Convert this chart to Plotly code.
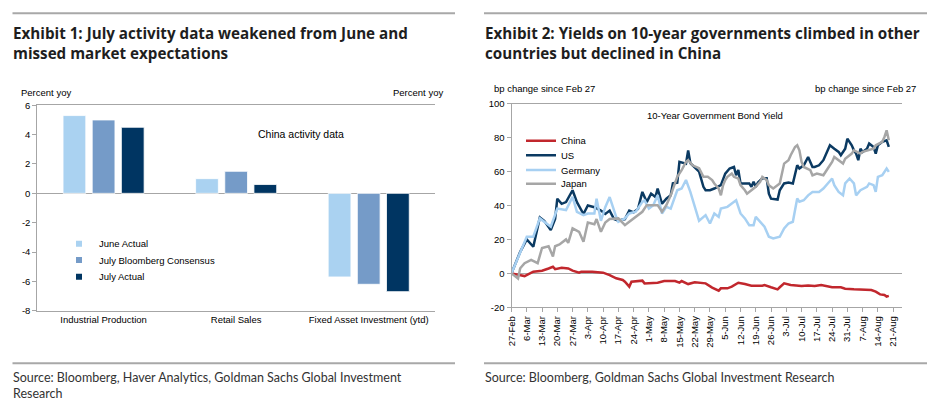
import plotly.graph_objects as go

W, H = 946, 420

# ---------------- Exhibit 1 data ----------------
CATEGORIES = ["Industrial Production", "Retail Sales", "Fixed Asset Investment (ytd)"]
JUNE_ACTUAL = [5.3, 1.0, -5.7]
JULY_CONSENSUS = [5.0, 1.5, -6.2]
JULY_ACTUAL = [4.5, 0.6, -6.7]
BAR_NAMES = ["June Actual", "July Bloomberg Consensus", "July Actual"]
BAR_COLORS = ["#AAD2F1", "#759BC8", "#003562"]
LEFT_Y_TICKS = [-8, -6, -4, -2, 0, 2, 4, 6]
LEFT_Y_TICK_LABELS = ["-8", "-6", "-4", "-2", "0", "2", "4", "6"]

# ---------------- Exhibit 2 data (bp change since Feb 27, x = days since 27-Feb) ----------------
DATE_TICK_LABELS = ["27-Feb", "6-Mar", "13-Mar", "20-Mar", "27-Mar", "3-Apr", "10-Apr", "17-Apr",
                    "24-Apr", "1-May", "8-May", "15-May", "22-May", "29-May", "5-Jun", "12-Jun",
                    "19-Jun", "26-Jun", "3-Jul", "10-Jul", "17-Jul", "24-Jul", "31-Jul", "7-Aug",
                    "14-Aug", "21-Aug"]
RIGHT_Y_TICKS = [-20, 0, 20, 40, 60, 80, 100]
RIGHT_Y_TICK_LABELS = ["-20", "0", "20", "40", "60", "80", "100"]

CHN_DAYS = [0, 3, 6, 10, 14, 17, 19, 20, 23, 26, 28, 31, 32, 37, 42, 45, 48, 51, 52, 54,
            55, 60, 61, 67, 70, 75, 77, 78, 81, 84, 89, 92, 95, 96, 99, 101, 104, 107, 110, 115,
            116, 119, 122, 123, 125, 128, 133, 136, 139, 142, 145, 147, 151, 153, 157, 161, 165,
            167, 169, 171, 172, 173]
CHN_BP = [0, -1, -1.6, 1, 1.6, 2.9, 3.9, 2.5, 3.3, 2.9, 1.6, 0.4, 1, 1, 0.4, -1, -2.9, -3.9, -4.9, -7.8,
          -4.9, -4.3, -5.9, -5.5, -4.5, -4.5, -5.5, -4.5, -6.3, -5.3, -5.9, -8.4, -10.2, -8.8, -8.8, -7.8,
          -5.5, -6.3, -7.3, -7.3, -6.9, -8.2, -9.4, -8.2, -5.9, -6.9, -7.5, -7.1, -7.5, -6.9, -7.5, -8.2,
          -8.2, -9, -9.4, -9.8, -9.8, -10.8, -12.4, -12.7, -13.7, -13.3]

US_DAYS = [0, 4, 7, 10, 13, 15, 18, 20, 21, 23, 25, 28, 30, 33, 35, 38, 41, 43, 45, 47,
           49, 52, 54, 56, 58, 60, 62, 64, 66, 67, 69, 71, 73, 74, 76, 77, 80, 81, 82, 84,
           86, 88, 89, 91, 93, 96, 98, 100, 102, 103, 104, 105, 107, 109, 110, 111, 112, 113, 115, 117,
           118, 119, 122, 123, 125, 127, 129, 131, 132, 134, 136, 138, 139, 141, 143, 146, 148, 150, 151, 153,
           154, 156, 157, 158, 159, 160, 161, 163, 164, 166, 167, 168, 170, 172, 173]
US_BP = [0, 12.7, 20, 15.7, 33, 31, 25.5, 32, 44, 41, 42, 49, 42, 35, 40, 39, 37, 35, 37, 32,
         31, 32, 37, 36, 38, 48, 42, 47, 45, 50, 41, 44, 46, 53, 53.5, 65.7, 64.7, 72.5, 65, 62.7,
         60, 51, 49, 49, 50, 52, 58.8, 61.8, 62.7, 57.8, 61, 53, 53, 53, 51, 54, 51, 53.5, 56, 56,
         47, 44, 43.5, 49, 53, 53.5, 53, 63.7, 61.8, 63.7, 68.6, 62.7, 62.7, 63.7, 66.7, 75.5, 73.5, 71.6, 69.6, 73.5,
         79.4, 75.5, 72.5, 70.6, 66.7, 73.5, 71.6, 73.5, 76.5, 74.5, 70.6, 75.5, 77.5, 78.4, 74.5]

GER_DAYS = [0, 4, 7, 10, 13, 18, 21, 25, 28, 30, 33, 35, 38, 39, 41, 43, 45, 48, 49, 52,
            54, 57, 60, 61, 63, 65, 67, 69, 71, 73, 76, 78, 80, 82, 84, 86, 89, 91, 93, 95,
            96, 99, 101, 103, 105, 107, 109, 111, 112, 114, 116, 118, 120, 123, 125, 127, 129, 131, 132, 134,
            136, 138, 141, 143, 145, 147, 148, 150, 152, 153, 155, 157, 158, 160, 163, 164, 166, 167, 168, 170,
            172, 173]
GER_BP = [0, 11.8, 21.6, 21.6, 32.4, 27.5, 38.2, 37.3, 45.1, 36.3, 34.3, 35.3, 35.3, 44, 31, 39, 45, 33.3, 30.4, 32.4,
          35.3, 36.3, 42.2, 43.1, 38.2, 40.2, 46.1, 35.3, 39.2, 38.2, 49, 50, 55, 48, 40, 31, 34.3, 29.4, 35.3, 33.3,
          38.2, 39.2, 41.2, 43.1, 35.3, 32.4, 28.4, 28.4, 33.3, 30.4, 27.5, 21.6, 20.6, 21.6, 26.5, 29.4, 30.4, 44.1, 42.2, 43.1,
          46, 48, 48, 50, 53, 55.9, 52, 48, 46, 53, 55.9, 53, 46, 49, 51, 53, 52, 48, 56.9, 57.8,
          61.8, 59.8]

JPN_DAYS = [0, 3, 4, 6, 9, 12, 14, 17, 19, 20, 22, 25, 26, 28, 31, 33, 35, 38, 39, 41,
            43, 45, 49, 52, 54, 57, 60, 62, 67, 69, 71, 73, 75, 76, 78, 80, 81, 83, 86, 88,
            90, 92, 93, 95, 96, 97, 98, 99, 101, 102, 104, 105, 107, 108, 110, 112, 114, 115, 117, 118,
            120, 121, 123, 125, 127, 128, 130, 131, 132, 133, 134, 137, 138, 140, 143, 145, 147, 148, 150, 152,
            153, 156, 157, 160, 161, 163, 166, 167, 170, 171, 172, 173]
JPN_BP = [0, -3, 3, 6, 8, 6, 15, 16, 10, 16, 17, 20, 18, 26.5, 24.5, 18.6, 30, 29, 32, 24.5,
          30, 32, 32.4, 28.4, 30.4, 33.3, 36.3, 40.2, 40.2, 36.3, 40.2, 46, 53, 56.9, 60.8, 65.7, 66.7, 63.7, 62, 56.9,
          56.9, 55, 53, 50, 46, 52, 55, 56.9, 58.8, 56.9, 55.9, 52, 49, 47, 49, 51, 53.9, 56.9, 55, 52,
          50, 51, 53, 64.7, 66.7, 69.6, 74.5, 75.5, 72.5, 65.7, 62.7, 60.8, 57.8, 58.8, 57.8, 61.8, 65.7, 68.6, 66.7, 64.7,
          67.6, 70.6, 72.5, 70.6, 71.6, 72.5, 73.5, 75.5, 77.5, 80.4, 84.3, 78.4]

LINE_SERIES = [
    ("China", CHN_DAYS, CHN_BP, "#C1272D"),
    ("US", US_DAYS, US_BP, "#0B3A62"),
    ("Germany", GER_DAYS, GER_BP, "#A7D0F2"),
    ("Japan", JPN_DAYS, JPN_BP, "#A6A6A6"),
]


def px_x(x):
    return x / W


def px_y(y):
    return 1 - y / H


CHART_FONT = "Liberation Sans, Arial, sans-serif"
TITLE_FONT = "Open Sans, sans-serif"
SOURCE_FONT = "Lato, sans-serif"
AXIS_GRAY = "#A6A6A6"
FS = 9.5

fig = go.Figure()

# ---------- Exhibit 1 bars ----------
for name, vals, col in zip(BAR_NAMES, [JUNE_ACTUAL, JULY_CONSENSUS, JULY_ACTUAL], BAR_COLORS):
    fig.add_trace(go.Bar(x=CATEGORIES, y=vals, name=name,
                         marker=dict(color=col, line=dict(color="white", width=0.8)),
                         xaxis="x", yaxis="y", showlegend=False, hoverinfo="skip"))
# legend-only entries (small square keys)
LEFT_LEG_Y = [243.7, 260.0, 276.7]
for i, (name, col) in enumerate(zip(BAR_NAMES, BAR_COLORS)):
    fig.add_trace(go.Scatter(x=[None], y=[None], mode="markers", name=name,
                             marker=dict(symbol="square", size=6, color=col),
                             xaxis="x", yaxis="y", legend=("legend" if i == 0 else f"legend{i + 1}")))

# ---------- Exhibit 2 lines ----------
for j, (name, xs, ys, col) in enumerate(LINE_SERIES):
    fig.add_trace(go.Scatter(x=xs, y=ys, mode="lines", name=name, line=dict(color=col, width=2.5),
                             xaxis="x2", yaxis="y3", legend=f"legend{4 + j}", hoverinfo="skip"))

RIGHT_LEG_Y = [140.7, 155.3, 170.0, 183.7]

# ---------- geometry ----------
L_X0, L_X1, L_Y0, L_Y1 = 37.3, 435.0, 105.3, 310.7
R_X0, R_X1, R_Y0, R_Y1 = 511.5, 901.7, 103.7, 307.3
L_DOM_X = [px_x(L_X0), px_x(L_X1)]
L_DOM_Y = [px_y(L_Y1), px_y(L_Y0)]
R_DOM_X = [px_x(R_X0), px_x(R_X1)]
R_DOM_Y = [px_y(R_Y1), px_y(R_Y0)]
zero_pos = L_DOM_Y[0] + (0 - (-8)) / 14 * (L_DOM_Y[1] - L_DOM_Y[0])

tickfont = dict(family=CHART_FONT, size=FS, color="#000000")
common = dict(automargin=False, showgrid=False, tickfont=tickfont, tickcolor=AXIS_GRAY,
              linecolor=AXIS_GRAY, linewidth=1, fixedrange=True)

layout = dict(
    width=W, height=H,
    margin=dict(l=0, r=0, t=0, b=0, pad=0),
    paper_bgcolor="white", plot_bgcolor="white",
    barmode="group", bargap=0.34, bargroupgap=0.22,
    font=dict(family=CHART_FONT, size=FS, color="#000"),
    hovermode=False,
    xaxis=dict(domain=L_DOM_X, anchor="y", type="category", categoryorder="array", categoryarray=CATEGORIES,
               range=[-0.5, 2.5], showline=True, mirror=True, ticks="", zeroline=False, **common),
    xaxis3=dict(domain=L_DOM_X, anchor="free", overlaying="x", position=zero_pos, type="linear",
                range=[-0.5, 2.5], tickvals=[0.5, 1.5], ticks="outside", ticklen=4,
                showticklabels=False, showline=False, zeroline=False, **common),
    yaxis=dict(domain=L_DOM_Y, anchor="x", range=[-8, 6], tickvals=LEFT_Y_TICKS, ticktext=LEFT_Y_TICK_LABELS,
               ticks="outside", ticklen=4, showline=True,
               zeroline=True, zerolinecolor=AXIS_GRAY, zerolinewidth=1, **common),
    yaxis2=dict(domain=L_DOM_Y, anchor="x", overlaying="y", side="right", range=[-8, 6], tickvals=LEFT_Y_TICKS,
                ticktext=LEFT_Y_TICK_LABELS, ticks="outside", ticklen=4, showline=True, zeroline=False, **common),
    xaxis2=dict(domain=R_DOM_X, anchor="y3", range=[0, (R_X1 - R_X0) / 2.181],
                tickvals=[7 * i for i in range(len(DATE_TICK_LABELS))], ticktext=DATE_TICK_LABELS,
                tickangle=-90, ticks="outside", ticklen=4, showline=True, mirror=True, zeroline=False, **common),
    yaxis3=dict(domain=R_DOM_Y, anchor="x2", range=[-20, 100], tickvals=RIGHT_Y_TICKS,
                ticktext=RIGHT_Y_TICK_LABELS, ticks="outside", ticklen=4, showline=True,
                zeroline=True, zerolinecolor=AXIS_GRAY, zerolinewidth=1, **common),
    yaxis4=dict(domain=R_DOM_Y, anchor="x2", overlaying="y3", side="right", range=[-20, 100],
                tickvals=RIGHT_Y_TICKS, ticktext=RIGHT_Y_TICK_LABELS, ticks="outside", ticklen=4, showline=True,
                zeroline=False, **common),
)

legfont = dict(family=CHART_FONT, size=FS, color="#000")
for i, yy in enumerate(LEFT_LEG_Y):
    key = "legend" if i == 0 else f"legend{i + 1}"
    layout[key] = dict(x=px_x(59), y=px_y(yy), xanchor="left", yanchor="middle", bgcolor="rgba(0,0,0,0)",
                       borderwidth=0, font=legfont, itemwidth=30)
for j, yy in enumerate(RIGHT_LEG_Y):
    layout[f"legend{4 + j}"] = dict(x=px_x(521), y=px_y(yy), xanchor="left", yanchor="middle",
                                    bgcolor="rgba(0,0,0,0)", borderwidth=0, font=legfont, itemwidth=30)

fig.update_layout(**layout)

# ---------- text ----------
ann = []


def add_text(text, x, y, size, family=CHART_FONT, xanchor="left", yanchor="middle", color="#000", align="left"):
    ann.append(dict(text=text, x=px_x(x), y=px_y(y), xref="paper", yref="paper", showarrow=False,
                    xanchor=xanchor, yanchor=yanchor, align=align,
                    font=dict(family=family, size=size, color=color)))


add_text("<b>Exhibit 1: July activity data weakened from June and<br>missed market expectations</b>",
         11, 43, 15.2, family=TITLE_FONT, color="#1E1E1E")
add_text("<b>Exhibit 2: Yields on 10-year governments climbed in other<br>countries but declined in China</b>",
         482.5, 43, 15.2, family=TITLE_FONT, color="#1E1E1E")
add_text("Source: Bloomberg, Haver Analytics, Goldman Sachs Global Investment<br>Research",
         11, 385, 12.5, family=SOURCE_FONT, color="#333333")
add_text("Source: Bloomberg, Goldman Sachs Global Investment Research",
         482.5, 377, 12.5, family=SOURCE_FONT, color="#333333")
add_text("Percent yoy", 19, 92.5, FS)
add_text("Percent yoy", 445, 92.5, FS, xanchor="right")
add_text("China activity data", 301, 134, 10.5, xanchor="center")
add_text("bp change since Feb 27", 491.5, 88.5, FS)
add_text("bp change since Feb 27", 918, 88.5, FS, xanchor="right")
add_text("10-Year Government Bond Yield", 715, 115, FS, xanchor="center")

fig.update_layout(annotations=ann)

# ---------- rules ----------
shapes = []
for (x0, x1) in [(12.5, 455), (484, 927)]:
    for yy in (13.3, 363.3):
        shapes.append(dict(type="line", xref="paper", yref="paper", x0=px_x(x0), x1=px_x(x1),
                           y0=px_y(yy), y1=px_y(yy), line=dict(color="#A8A8A8", width=2)))
fig.update_layout(shapes=shapes)

fig.write_html("out.html", config={"displayModeBar": False, "staticPlot": True},
               post_script="document.body.style.margin='0px';document.body.style.overflow='hidden';")
